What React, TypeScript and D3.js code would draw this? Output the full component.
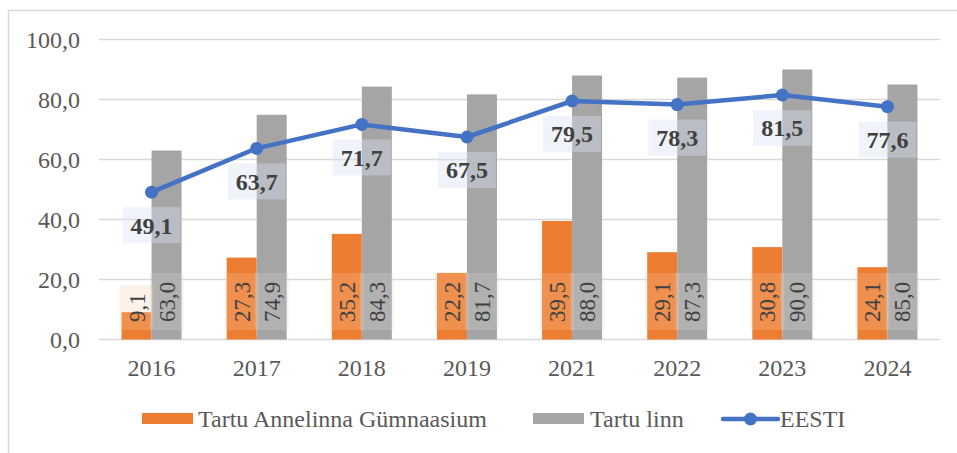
import React from "react";
import * as d3 from "d3";

const categories = ["2016", "2017", "2018", "2019", "2021", "2022", "2023", "2024"];
const schoolValues = [9.1, 27.3, 35.2, 22.2, 39.5, 29.1, 30.8, 24.1];
const cityValues = [63.0, 74.9, 84.3, 81.7, 88.0, 87.3, 90.0, 85.0];
const estoniaValues = [49.1, 63.7, 71.7, 67.5, 79.5, 78.3, 81.5, 77.6];
const yTicks = [0, 20, 40, 60, 80, 100];
const seriesNames = ["Tartu Annelinna Gümnaasium", "Tartu linn", "EESTI"];

const W = 957;
const H = 453;
const ORANGE = "#ED7D31";
const GRAY = "#A5A5A5";
const BLUE = "#4472C4";
const SERIF = "'Liberation Serif', 'Times New Roman', serif";

const fmt = (v: number) => v.toFixed(1).replace(".", ",");

export default function App() {
  const x = d3.scaleBand<string>().domain(categories).range([99, 940]).padding(0);
  const y = d3.scaleLinear().domain([0, 100]).range([339.5, 39.5]);
  const inner = d3.scaleBand<string>().domain(["s", "c"]).range([-30, 30]).padding(0);
  const cx = (c: string) => (x(c) as number) + x.bandwidth() / 2;
  const barW = inner.bandwidth();

  const line = d3
    .line<number>()
    .x((_, i) => cx(categories[i]))
    .y((d) => y(d));

  const barLabelBase = 322;

  return (
    <svg
      width={W}
      height={H}
      style={{ position: "absolute", left: 0, top: 0, display: "block", background: "#fff" }}
      fontFamily={SERIF}
    >
      {/* frame */}
      <line x1={8.5} x2={8.5} y1={10} y2={H} stroke="#D9D9D9" strokeWidth={1.5} />
      <line x1={8} x2={W} y1={10.5} y2={10.5} stroke="#D9D9D9" strokeWidth={1.5} />

      {/* gridlines */}
      {yTicks.map((t) => (
        <g key={t}>
          <line x1={99} x2={940} y1={y(t)} y2={y(t)} stroke="#D9D9D9" strokeWidth={1.5} />
          <text x={80} y={y(t)} dy="0.35em" textAnchor="end" fontSize={24} fill="#595959">
            {fmt(t)}
          </text>
        </g>
      ))}

      {/* x labels */}
      {categories.map((c) => (
        <text key={c} x={cx(c)} y={376} textAnchor="middle" fontSize={24} fill="#595959">
          {c}
        </text>
      ))}

      {/* bars */}
      {categories.map((c, i) => (
        <g key={c}>
          <rect
            x={cx(c) + (inner("s") as number)}
            y={y(schoolValues[i])}
            width={barW}
            height={y(0) - y(schoolValues[i])}
            fill={ORANGE}
          />
          <rect
            x={cx(c) + (inner("c") as number)}
            y={y(cityValues[i])}
            width={barW}
            height={y(0) - y(cityValues[i])}
            fill={GRAY}
          />
        </g>
      ))}

      {/* bar labels */}
      {categories.map((c, i) => {
        const items = [
          { key: "s", v: schoolValues[i], tint: "#F8CBAD" },
          { key: "c", v: cityValues[i], tint: "#D9D9D9" },
        ];
        return items.map((it) => {
          const txt = fmt(it.v);
          const len = txt.length === 3 ? 28 : 40;
          const bx = cx(c) + (inner(it.key) as number) + barW / 2;
          return (
            <g key={c + it.key}>
              <rect
                x={bx - 17}
                y={barLabelBase - len - 9}
                width={34}
                height={len + 17}
                fill={it.tint}
                opacity={0.25}
              />
              <text
                transform={`translate(${bx + 8},${barLabelBase}) rotate(-90)`}
                fontSize={23}
                fill="#404040"
              >
                {txt}
              </text>
            </g>
          );
        });
      })}

      {/* line */}
      <path
        d={line(estoniaValues) || ""}
        fill="none"
        stroke={BLUE}
        strokeWidth={4.5}
        strokeLinejoin="round"
        strokeLinecap="round"
      />
      {estoniaValues.map((v, i) => (
        <circle key={i} cx={cx(categories[i])} cy={y(v)} r={6.5} fill={BLUE} />
      ))}

      {/* line labels */}
      {estoniaValues.map((v, i) => {
        const px = cx(categories[i]);
        const py = y(v);
        return (
          <g key={"l" + i}>
            <rect x={px - 29} y={py + 15} width={58} height={36} fill="#DAE3F3" opacity={0.4} />
            <text
              x={px}
              y={py + 33}
              dy="0.35em"
              textAnchor="middle"
              fontSize={24}
              fontWeight="bold"
              fill="#404040"
            >
              {fmt(v)}
            </text>
          </g>
        );
      })}

      {/* legend */}
      <g>
        <rect x={142} y={413} width={51} height={11} fill={ORANGE} />
        <text x={198} y={419} dy="0.35em" fontSize={24} fill="#595959">
          {seriesNames[0]}
        </text>
        <rect x={533} y={413} width={51} height={11} fill={GRAY} />
        <text x={590} y={419} dy="0.35em" fontSize={24} fill="#595959">
          {seriesNames[1]}
        </text>
        <line x1={723} x2={778} y1={419} y2={419} stroke={BLUE} strokeWidth={4.5} strokeLinecap="round" />
        <circle cx={750.5} cy={419} r={6.5} fill={BLUE} />
        <text x={780} y={419} dy="0.35em" fontSize={24} fill="#595959">
          {seriesNames[2]}
        </text>
      </g>
    </svg>
  );
}
